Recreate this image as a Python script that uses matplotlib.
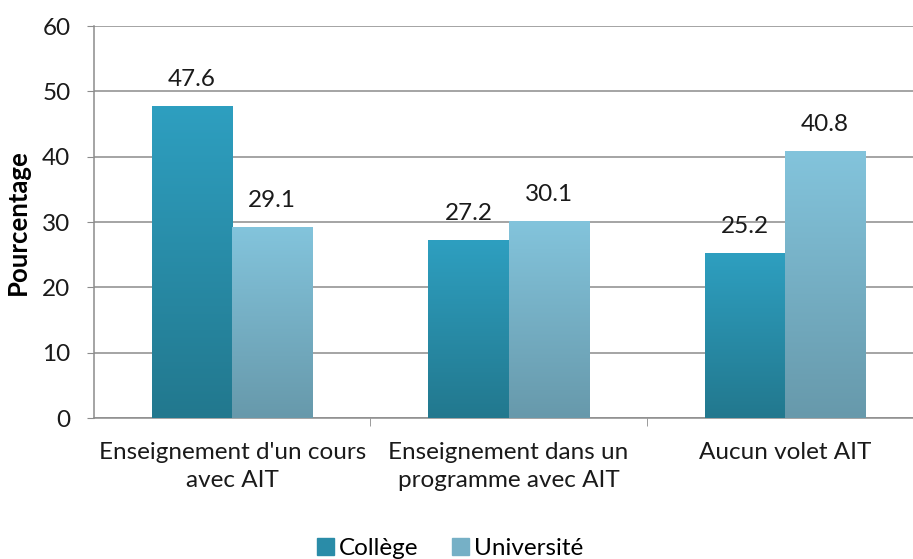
import numpy as np
import matplotlib.pyplot as plt
from matplotlib.colors import LinearSegmentedColormap
import matplotlib.patches as patches

categories = ["Enseignement d'un cours\navec AIT",
              "Enseignement dans un\nprogramme avec AIT",
              "Aucun volet AIT"]
college = [47.6, 27.2, 25.2]
universite = [29.1, 30.1, 40.8]
series_names = ["Collège", "Université"]

plt.rcParams['font.family'] = ['Lato', 'DejaVu Sans']

# top / bottom colours of the gradients
grad_college = ("#2e9fc0", "#22788e")
grad_univ = ("#83c4dc", "#6799ab")
txt = "#1a1a1a"
fs = 17.5

fig = plt.figure(figsize=(9.13, 5.59), dpi=100)
ax = fig.add_axes([0.103, 0.252, 0.908, 0.7013])

x = np.arange(len(categories))
w = 0.29
bars_c = ax.bar(x - w / 2, college, w, color="none", zorder=3)
bars_u = ax.bar(x + w / 2, universite, w, color="none", zorder=3)

grad = np.linspace(0, 1, 256).reshape(-1, 1)
for bars, (top, bot) in [(bars_c, grad_college), (bars_u, grad_univ)]:
    cmap = LinearSegmentedColormap.from_list("g", [bot, top])
    for b in bars:
        x0, y0 = b.get_x(), b.get_y()
        ax.imshow(grad, cmap=cmap, origin="lower", aspect="auto",
                  extent=(x0, x0 + b.get_width(), y0, y0 + b.get_height()),
                  zorder=3)
        ax.annotate(f"{b.get_height():.1f}", (x0 + b.get_width() / 2, b.get_height()),
                    xytext=(0, 12), textcoords="offset points",
                    ha="center", va="bottom", fontsize=fs, color=txt)

ax.set_xlim(-0.5, len(categories) - 0.5)
ax.set_ylim(0, 60)
ax.set_yticks(range(0, 61, 10))
ax.grid(axis="y", color="#8c8c8c", linewidth=1.1, zorder=0)
ax.set_axisbelow(True)

ax.set_xticks(x)
ax.set_xticklabels(categories, fontsize=fs, color=txt, linespacing=1.45)
ax.tick_params(axis="x", length=0, pad=17)
ax.set_xticks([0.5, 1.5], minor=True)
ax.tick_params(axis="x", which="minor", length=6, color="#8c8c8c", direction="out")
ax.tick_params(axis="y", length=5, color="#8c8c8c", labelsize=fs, labelcolor=txt, pad=12)

for s in ["top", "right"]:
    ax.spines[s].set_visible(False)
for s in ["left", "bottom"]:
    ax.spines[s].set_color("#8c8c8c")
    ax.spines[s].set_linewidth(1.1)

ax.set_ylabel("Pourcentage", fontsize=18.5, fontweight="bold", color="black")
ax.yaxis.set_label_coords(-0.077, 0.5)

handles = [patches.Patch(color=c) for c in ("#2a8ca8", "#76b0c6")]
fig.legend(handles, series_names, loc="lower center", ncol=2, frameon=False,
           fontsize=fs, handlelength=0.7, handleheight=0.7, handletextpad=0.2,
           columnspacing=1.4, bbox_to_anchor=(0.493, -0.04))

fig.savefig("out.png", dpi=100)
